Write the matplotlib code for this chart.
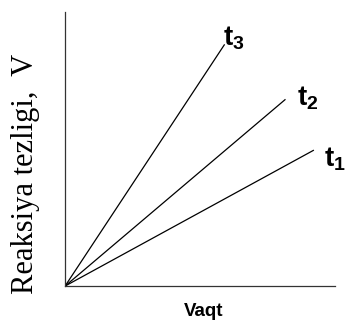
import matplotlib
matplotlib.use("Agg")
import matplotlib.pyplot as plt

# line end points (lines start at origin), arbitrary units 0..10
labels = ["1", "2", "3"]
x_end = [9.2, 8.15, 5.9]
y_end = [4.95, 6.8, 8.8]

# label offsets from line ends, pixels
offsets = [(11, -16), (12, -6), (-1, -1)]

plt.rcParams["mathtext.fontset"] = "custom"
plt.rcParams["mathtext.rm"] = "Liberation Sans"
plt.rcParams["mathtext.bf"] = "Liberation Sans:bold"

fig = plt.figure(figsize=(3.46, 3.24), dpi=100)
ax = fig.add_axes([0.188, 0.117, 0.780, 0.846])

for lab, xe, ye, off in zip(labels, x_end, y_end, offsets):
    ax.plot([0, xe], [0, ye], color="black", lw=0.9)
    ax.annotate(r"$\mathbf{t_%s}$" % lab, (xe, ye), xytext=off,
                textcoords="offset pixels", fontsize=20,
                ha="left", va="baseline")

ax.set_xlim(0, 10)
ax.set_ylim(0, 10)
ax.set_xticks([])
ax.set_yticks([])
for s in ["top", "right"]:
    ax.spines[s].set_visible(False)
for s in ["left", "bottom"]:
    ax.spines[s].set_linewidth(0.9)
    ax.spines[s].set_color("#333333")

fig.text(203.5 / 346, 1 - 312 / 324, "Vaqt", family="Liberation Sans",
         fontsize=13.5, fontweight="bold", ha="center", va="center")
fig.text(25 / 346, 1 - 174 / 324, "Reaksiya tezligi,  V", family="Liberation Serif",
         fontsize=22, rotation=90, ha="center", va="center")

fig.savefig("out.png", dpi=100)
